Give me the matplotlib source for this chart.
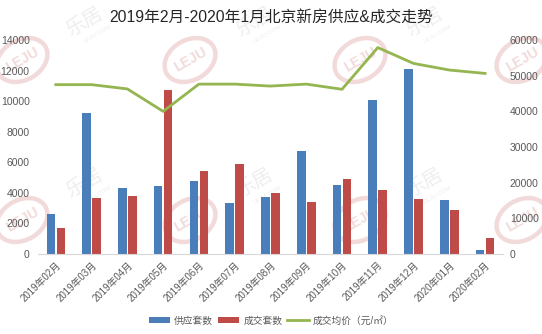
import numpy as np
import matplotlib
matplotlib.use("Agg")
import matplotlib.pyplot as plt
from matplotlib.patches import Ellipse

plt.rcParams['font.family'] = ['Liberation Sans', 'Noto Sans CJK SC']

months = ["2019年02月", "2019年03月", "2019年04月", "2019年05月", "2019年06月",
          "2019年07月", "2019年08月", "2019年09月", "2019年10月", "2019年11月",
          "2019年12月", "2020年01月", "2020年02月"]
supply = [2620, 9220, 4320, 4450, 4770, 3340, 3730, 6740, 4510, 10070, 12100, 3530, 260]
deals = [1700, 3660, 3810, 10730, 5430, 5890, 3990, 3400, 4900, 4190, 3600, 2880, 1050]
avg_price = [47500, 47500, 46300, 40000, 47650, 47650, 47100, 47650, 46200, 57900, 53450, 51600, 50650]

blue = "#4a7ebb"
red = "#be4b48"
green = "#94b550"
gray = "#595959"

fig = plt.figure(figsize=(5.42, 3.34), dpi=100)

# faint site watermark behind the chart (pixel coordinates)
wm = fig.add_axes([0, 0, 1, 1], zorder=-1)
wm.set_xlim(0, 542)
wm.set_ylim(334, 0)
wm.axis("off")
for cx in (22, 190, 360, 522):
    for cy in (60, 220):
        wm.add_patch(Ellipse((cx, cy), 54, 40, angle=-30, fill=False,
                             ec="#f2dada", lw=3.2))
        wm.text(cx, cy, "LEJU", rotation=30, ha="center", va="center",
                fontsize=10, fontweight="bold", color="#f2dada")
for cx in (85, 255, 425):
    for cy in (22, 183):
        wm.text(cx, cy, "乐居", rotation=30, ha="center", va="center",
                fontsize=14, color="#eeeeee")
        wm.text(cx + 12, cy + 12, "LEJU.COM", rotation=30, ha="center", va="center",
                fontsize=4.5, color="#eeeeee")

ax = fig.add_axes([0.070, 0.2395, 0.858, 0.6405])
ax.patch.set_alpha(0)
ax2 = ax.twinx()

x = np.arange(len(months))
w = 0.24
b1 = ax.bar(x - w / 2 - 0.02, supply, w, color=blue, label="供应套数")
b2 = ax.bar(x + w / 2 + 0.02, deals, w, color=red, label="成交套数")
l1, = ax2.plot(x, avg_price, color=green, lw=2, label="成交均价（元/㎡）")

ax.set_xlim(-0.5, len(months) - 0.5)
ax.set_ylim(0, 14000)
ax2.set_ylim(0, 60000)
ax.set_yticks(range(0, 14001, 2000))
ax2.set_yticks(range(0, 60001, 10000))
ax.set_xticks(x)
ax.set_xticklabels(months, rotation=45, ha="right", rotation_mode="anchor")

for a in (ax, ax2):
    for s in a.spines.values():
        s.set_visible(False)
    a.tick_params(length=0, labelsize=7.5, colors=gray)
ax.spines["bottom"].set_visible(True)
ax.spines["bottom"].set_color("#d9d9d9")
ax.tick_params(axis="x", labelsize=7, pad=4)
ax.tick_params(axis="y", pad=6)
ax2.tick_params(axis="y", pad=5)

fig.text(0.5, 0.948, "2019年2月-2020年1月北京新房供应&成交走势", ha="center", va="center",
         fontsize=11.3, color="#262626")

fig.legend([b1, b2, l1], ["供应套数", "成交套数", "成交均价（元/㎡）"], loc="center",
           bbox_to_anchor=(0.5, 0.04), ncol=3, frameon=False, fontsize=7,
           handlelength=2.2, handleheight=0.6, columnspacing=0.5, handletextpad=0.4,
           labelcolor=gray)

fig.savefig("out.png", dpi=100)
